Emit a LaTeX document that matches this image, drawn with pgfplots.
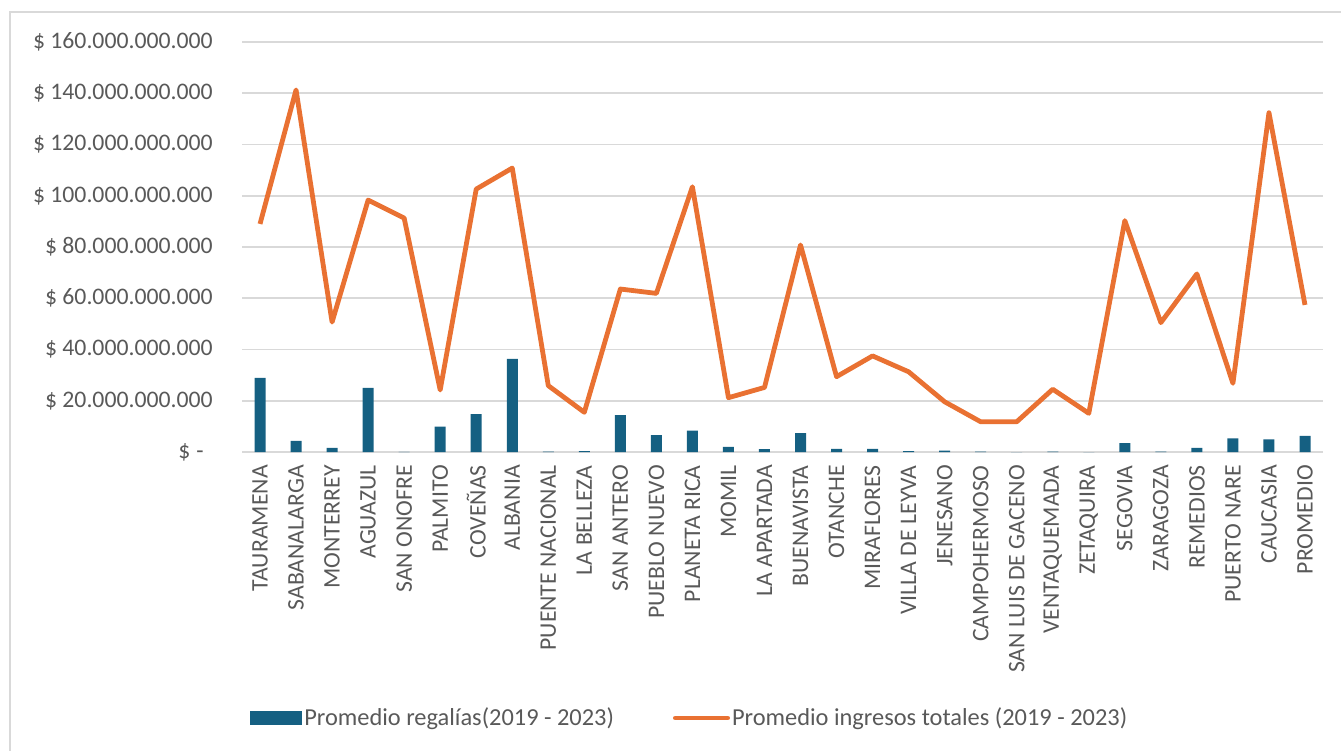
\documentclass[border=0pt]{standalone}
\usepackage{pgfplots}
\pgfplotsset{compat=1.18}
\usepackage{fontspec}
\setmainfont{Carlito}
\definecolor{cbar}{HTML}{156082}
\definecolor{cline}{HTML}{E97132}
\definecolor{ctext}{HTML}{595959}
\definecolor{cgrid}{HTML}{D9D9D9}
\newcommand{\zerolabel}{\mbox{\$\kern4.5pt-\kern6.75pt}\mbox{}}
\begin{document}
\begin{tikzpicture}[font=\fontsize{17.8pt}{21pt}\selectfont]
\useasboundingbox (0,0) rectangle (1005.75pt,-562.5pt);
\draw[cgrid, line width=1.1pt] (7.5pt,-600pt) -- (7.5pt,-9pt) -- (1020pt,-9pt);
\begin{axis}[
  at={(181.5pt,-339pt)}, anchor=south west,
  scale only axis, width=810.75pt, height=307.5pt,
  xmin=-0.5, xmax=29.5, ymin=0, ymax=160,
  axis line style={draw=none},
  major tick length=0pt,
  ymajorgrids, grid style={cgrid, line width=1.2pt},
  ytick={0,20,40,60,80,100,120,140,160},
  yticklabels={\zerolabel,\$ 20.000.000.000,\$ 40.000.000.000,\$ 60.000.000.000,\$ 80.000.000.000,\$ 100.000.000.000,\$ 120.000.000.000,\$ 140.000.000.000,\$ 160.000.000.000},
  yticklabel style={anchor=east, inner sep=0pt, xshift=-21.75pt, text=ctext},
  xtick={0,...,29},
  xticklabels={TAURAMENA,SABANALARGA,MONTERREY,AGUAZUL,SAN ONOFRE,PALMITO,COVEÑAS,ALBANIA,PUENTE NACIONAL,LA BELLEZA,SAN ANTERO,PUEBLO NUEVO,PLANETA RICA,MOMIL,LA APARTADA,BUENAVISTA,OTANCHE,MIRAFLORES,VILLA DE LEYVA,JENESANO,CAMPOHERMOSO,SAN LUIS DE GACENO,VENTAQUEMADA,ZETAQUIRA,SEGOVIA,ZARAGOZA,REMEDIOS,PUERTO NARE,CAUCASIA,PROMEDIO},
  xticklabel style={yshift=-9.75pt, rotate=90, anchor=east, inner sep=0pt, text=ctext},
  legend style={at={(0.0074,-0.6488)}, anchor=west, draw=none, fill=none, inner sep=0pt,
    legend columns=2, nodes={inner sep=1.5pt, text=ctext},
    font=\fontsize{18.3pt}{21pt}\selectfont,
    /tikz/every even column/.append style={column sep=42.75pt}},
  legend cell align=left,
]
\addplot[ybar, bar width=8.25pt, fill=cbar, draw=none,
  legend image code/.code={\fill[cbar] (0pt,-4.9pt) rectangle (39pt,4.9pt);}]
coordinates {
(0,28.9) (1,4.3) (2,1.6) (3,25.0) (4,0.05) (5,9.9) (6,14.8) (7,36.3) (8,0.2) (9,0.3)
(10,14.4) (11,6.6) (12,8.3) (13,2.0) (14,1.1) (15,7.4) (16,1.2) (17,1.2) (18,0.3) (19,0.5)
(20,0.2) (21,0.0) (22,0.2) (23,0.0) (24,3.5) (25,0.2) (26,1.6) (27,5.3) (28,4.9) (29,6.3)
};
\addlegendentry{Promedio regalías(2019 - 2023)}
\addplot[cline, line width=3.6pt, line join=round, mark=none,
  legend image code/.code={\draw[cline, line width=3.6pt, line cap=round] (1.8pt,0) -- (41pt,0);}]
coordinates {
(0,89.0) (1,141.3) (2,50.7) (3,98.3) (4,91.3) (5,24.2) (6,102.6) (7,110.8) (8,25.9) (9,15.5)
(10,63.6) (11,61.9) (12,103.5) (13,21.2) (14,25.2) (15,80.8) (16,29.4) (17,37.5) (18,31.3) (19,19.6)
(20,11.8) (21,11.8) (22,24.5) (23,15.1) (24,90.3) (25,50.5) (26,69.5) (27,26.8) (28,132.4) (29,57.4)
};
\addlegendentry{Promedio ingresos totales (2019 - 2023)}
\end{axis}
\end{tikzpicture}
\end{document}
